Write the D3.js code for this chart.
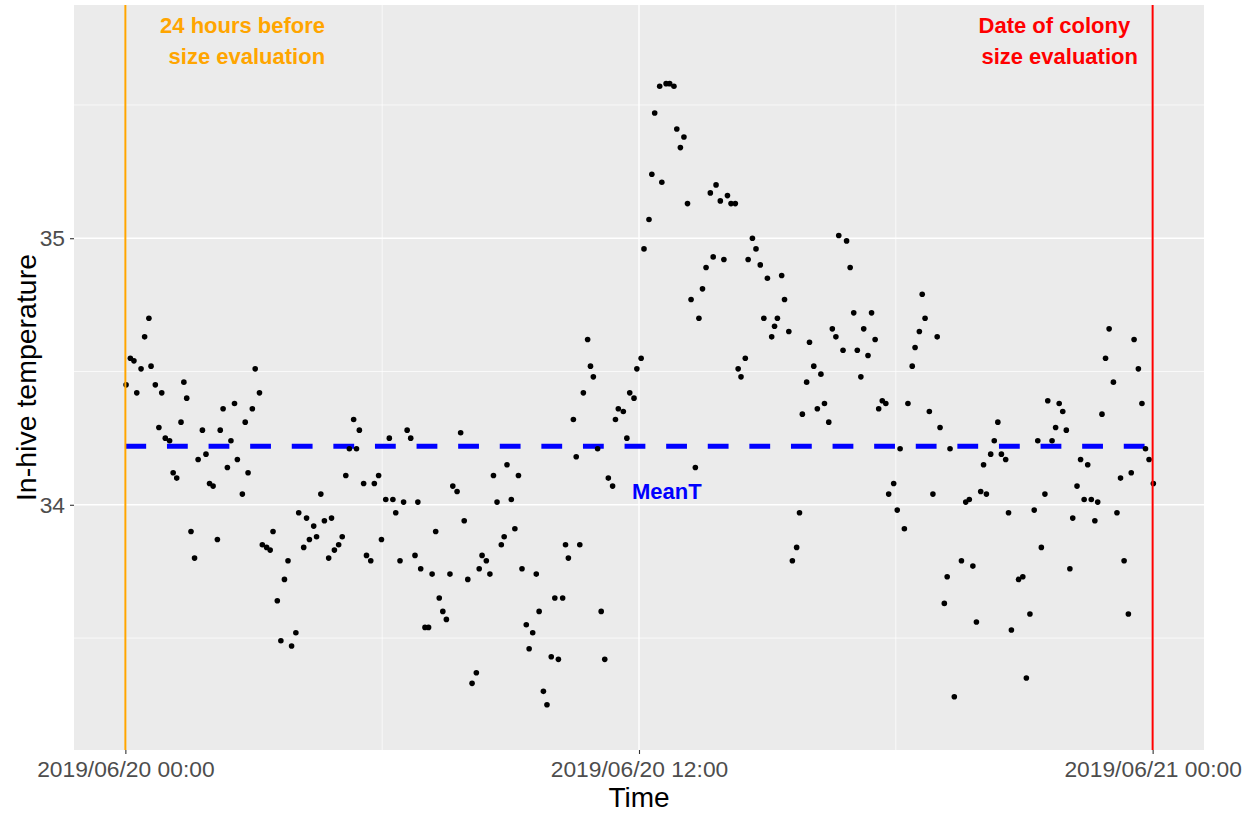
<!DOCTYPE html>
<html>
<head>
<meta charset="utf-8">
<script src="https://cdn.jsdelivr.net/npm/d3@7"></script>
<style>
  body { margin: 0; background: #ffffff; }
  text { font-family: "Liberation Sans", Arial, sans-serif; }
</style>
</head>
<body>
<div id="chart"></div>
<script>
// Logger readings, minutes after 2019/06/20 00:00
var minutes = [
  1, 7, 12, 16, 22, 27, 33, 36, 42, 47,
  51, 56, 62, 67, 72, 78, 82, 86, 92, 97,
  102, 108, 113, 118, 123, 129, 133, 137, 143, 148,
  153, 157, 164, 168, 172, 178, 182, 188, 192, 198,
  203, 207, 213, 218, 223, 228, 233, 239, 243, 250,
  254, 258, 264, 268, 274, 279, 285, 289, 293, 299,
  304, 309, 314, 320, 324, 328, 334, 338, 344, 349,
  355, 359, 365, 370, 375, 379, 385, 390, 395, 400,
  406, 410, 414, 420, 425, 430, 435, 440, 445, 450,
  455, 459, 465, 470, 475, 480, 486, 492, 496, 500,
  506, 511, 516, 521, 527, 531, 535, 541, 546, 551,
  556, 562, 566, 571, 576, 580, 586, 591, 597, 602,
  607, 613, 617, 621, 628, 632, 637, 642, 648, 652,
  656, 662, 667, 672, 677, 683, 687, 691, 698, 703,
  707, 713, 717, 723, 727, 734, 738, 742, 749, 752,
  758, 763, 769, 773, 778, 783, 788, 793, 799, 804,
  809, 814, 820, 824, 828, 834, 839, 844, 849, 855,
  859, 863, 869, 873, 879, 884, 890, 895, 900, 906,
  910, 914, 920, 924, 930, 935, 941, 945, 949, 955,
  959, 965, 970, 975, 980, 986, 991, 996, 1000, 1006,
  1011, 1016, 1021, 1026, 1031, 1035, 1041, 1046, 1051, 1056,
  1061, 1066, 1070, 1077, 1082, 1086, 1092, 1097, 1103, 1107,
  1113, 1117, 1121, 1127, 1132, 1138, 1142, 1148, 1152, 1156, 1162,
  1172, 1178, 1183, 1188, 1193, 1199, 1203, 1207, 1213, 1218, 1223, 1228, 1234, 1238, 1242,
  1252, 1258, 1263, 1268, 1274, 1279, 1284, 1289, 1293, 1299, 1304, 1309,
  1314, 1319, 1324, 1328, 1334, 1339, 1344, 1349, 1354, 1359,
  1363, 1369, 1374, 1379, 1385, 1390, 1395, 1400, 1406, 1410,
  1414, 1420, 1425, 1430, 1435, 1441
];

// In-hive temperature at each reading
var temps = [
  34.45, 34.55, 34.54, 34.42, 34.51, 34.63, 34.70, 34.52, 34.45, 34.29,
  34.42, 34.25, 34.24, 34.12, 34.10, 34.31, 34.46, 34.40, 33.90, 33.80,
  34.17, 34.28, 34.19, 34.08, 34.07, 33.87, 34.28, 34.36, 34.14, 34.24,
  34.38, 34.17, 34.04, 34.31, 34.12, 34.36, 34.51, 34.42, 33.85, 33.84,
  33.83, 33.90, 33.64, 33.49, 33.72, 33.79, 33.47, 33.52, 33.97, 33.84,
  33.95, 33.87, 33.92, 33.88, 34.04, 33.94, 33.80, 33.95, 33.83, 33.85,
  33.88, 34.11, 34.21, 34.32, 34.21, 34.28, 34.08, 33.81, 33.79, 34.08,
  34.11, 33.87, 34.02, 34.25, 34.02, 33.97, 33.79, 34.01, 34.28, 34.25,
  33.81, 34.01, 33.76, 33.54, 33.54, 33.74, 33.90, 33.65, 33.60, 33.57,
  33.74, 34.07, 34.05, 34.27, 33.94, 33.72, 33.33, 33.37, 33.76, 33.81,
  33.79, 33.74, 34.11, 34.01, 33.85, 33.88, 34.15, 34.02, 33.91, 34.11,
  33.76, 33.55, 33.46, 33.52, 33.74, 33.60, 33.30, 33.25, 33.43, 33.65,
  33.42, 33.65, 33.85, 33.80, 34.32, 34.18, 33.85, 34.42, 34.62, 34.52,
  34.48, 34.21, 33.60, 33.42, 34.10, 34.07, 34.32, 34.36, 34.35, 34.25,
  34.42, 34.40, 34.51, 34.55, 34.96, 35.07, 35.24, 35.47, 35.57, 35.21,
  35.58, 35.58, 35.57, 35.41, 35.34, 35.38, 35.13, 34.77, 34.14, 34.70,
  34.81, 34.89, 35.17, 34.93, 35.20, 35.14, 34.92, 35.16, 35.13, 35.13,
  34.51, 34.48, 34.55, 34.92, 35.00, 34.96, 34.90, 34.70, 34.85, 34.63,
  34.67, 34.70, 34.86, 34.77, 34.65, 33.79, 33.84, 33.97, 34.34, 34.46,
  34.61, 34.52, 34.36, 34.49, 34.38, 34.31, 34.66, 34.63, 35.01, 34.58,
  34.99, 34.89, 34.72, 34.58, 34.48, 34.66, 34.56, 34.72, 34.62, 34.36,
  34.39, 34.38, 34.04, 34.08, 33.98, 34.21, 33.91, 34.38, 34.52, 34.59,
  34.65, 34.79, 34.70, 34.35, 34.04, 34.63, 34.29, 33.63, 33.73, 34.21, 33.28,
  33.79, 34.01, 34.02, 33.77, 33.56, 34.05, 34.15, 34.04, 34.19, 34.24, 34.31, 34.19, 34.17, 33.97, 33.53,
  33.72, 33.73, 33.35, 33.59, 33.98, 34.24, 33.84, 34.04, 34.39, 34.24, 34.29, 34.38,
  34.35, 34.28, 33.76, 33.95, 34.07, 34.17, 34.02, 34.15, 34.02, 33.94,
  34.01, 34.34, 34.55, 34.66, 34.46, 33.97, 34.10, 33.79, 33.59, 34.12,
  34.62, 34.51, 34.38, 34.21, 34.17, 34.08
];

var meanT = 34.22;

// axis breaks
var majorHours = [0, 12, 24];
var minorHours = [6, 18];
var majorTemps = [34, 35];
var minorTemps = [33.5, 34.5, 35.5];

var svgWidth = 1251;
var svgHeight = 814;

var margin = {
  top: 5,
  right: 47,
  bottom: 64,
  left: 74
};

var width = svgWidth - margin.left - margin.right;
var height = svgHeight - margin.top - margin.bottom;

var day0 = new Date(2019, 5, 20, 0, 0);
function toDate(m) {
  return new Date(day0.getTime() + m * 60000);
}

var svg = d3.select("#chart")
  .append("svg")
  .attr("width", svgWidth)
  .attr("height", svgHeight);

var chartGroup = svg.append("g")
  .attr("transform", `translate(${margin.left}, ${margin.top})`);

// Scales (5% padding on time, fixed temperature window)
var xTimeScale = d3.scaleTime()
  .domain([toDate(-72), toDate(1512)])
  .range([0, width]);

var yLinearScale = d3.scaleLinear()
  .domain([33.08, 35.875])
  .range([height, 0]);

// Panel background
chartGroup.append("rect")
  .attr("width", width)
  .attr("height", height)
  .attr("fill", "#EBEBEB");

// Grid lines
chartGroup.selectAll(".minor-y").data(minorTemps).enter().append("line")
  .attr("x1", 0).attr("x2", width)
  .attr("y1", d => yLinearScale(d)).attr("y2", d => yLinearScale(d))
  .attr("stroke", "white").attr("stroke-width", 0.7);

chartGroup.selectAll(".minor-x").data(minorHours).enter().append("line")
  .attr("x1", d => xTimeScale(toDate(d * 60))).attr("x2", d => xTimeScale(toDate(d * 60)))
  .attr("y1", 0).attr("y2", height)
  .attr("stroke", "white").attr("stroke-width", 0.7);

chartGroup.selectAll(".major-y").data(majorTemps).enter().append("line")
  .attr("x1", 0).attr("x2", width)
  .attr("y1", d => yLinearScale(d)).attr("y2", d => yLinearScale(d))
  .attr("stroke", "white").attr("stroke-width", 1.4);

chartGroup.selectAll(".major-x").data(majorHours).enter().append("line")
  .attr("x1", d => xTimeScale(toDate(d * 60))).attr("x2", d => xTimeScale(toDate(d * 60)))
  .attr("y1", 0).attr("y2", height)
  .attr("stroke", "white").attr("stroke-width", 1.4);

// Axes
var bottomAxis = d3.axisBottom(xTimeScale)
  .tickValues(majorHours.map(h => toDate(h * 60)))
  .tickFormat(d3.timeFormat("%Y/%m/%d %H:%M"))
  .tickSize(4)
  .tickPadding(7);

var leftAxis = d3.axisLeft(yLinearScale)
  .tickValues(majorTemps)
  .tickFormat(d3.format("d"))
  .tickSize(4)
  .tickPadding(5);

var xAxisG = chartGroup.append("g")
  .attr("transform", `translate(0, ${height})`)
  .call(bottomAxis);

var yAxisG = chartGroup.append("g")
  .call(leftAxis);

[xAxisG, yAxisG].forEach(function(g) {
  g.select(".domain").remove();
  g.selectAll(".tick line").attr("stroke", "#333333").attr("stroke-width", 1.1);
  g.selectAll(".tick text")
    .attr("fill", "#4D4D4D")
    .attr("font-size", "22.8px")
    .attr("font-family", "Liberation Sans, Arial, sans-serif");
});

// Mean line
chartGroup.append("line")
  .attr("x1", xTimeScale(toDate(0)))
  .attr("x2", xTimeScale(toDate(1440)))
  .attr("y1", yLinearScale(meanT))
  .attr("y2", yLinearScale(meanT))
  .attr("stroke", "blue")
  .attr("stroke-width", 5)
  .attr("stroke-dasharray", "20.8,20.8");

// Points
chartGroup.selectAll("circle")
  .data(d3.zip(minutes, temps))
  .enter()
  .append("circle")
  .attr("cx", d => xTimeScale(toDate(d[0])))
  .attr("cy", d => yLinearScale(d[1]))
  .attr("r", 2.8)
  .attr("fill", "black");

// Reference lines
chartGroup.append("line")
  .attr("x1", xTimeScale(toDate(0))).attr("x2", xTimeScale(toDate(0)))
  .attr("y1", 0).attr("y2", height)
  .attr("stroke", "orange").attr("stroke-width", 2);

chartGroup.append("line")
  .attr("x1", xTimeScale(toDate(1440))).attr("x2", xTimeScale(toDate(1440)))
  .attr("y1", 0).attr("y2", height)
  .attr("stroke", "red").attr("stroke-width", 2);

// Annotations
var orangeText = chartGroup.append("text")
  .attr("x", xTimeScale(toDate(280)))
  .attr("y", yLinearScale(35.77))
  .attr("text-anchor", "end")
  .attr("fill", "orange")
  .attr("font-size", "22px")
  .attr("font-weight", "bold");
orangeText.append("tspan").attr("x", xTimeScale(toDate(280))).text("24 hours before");
orangeText.append("tspan").attr("x", xTimeScale(toDate(280))).attr("dy", 31).text("size evaluation");

var redText = chartGroup.append("text")
  .attr("x", xTimeScale(toDate(1196)))
  .attr("y", yLinearScale(35.77))
  .attr("text-anchor", "start")
  .attr("fill", "red")
  .attr("font-size", "22px")
  .attr("font-weight", "bold");
redText.append("tspan").attr("x", xTimeScale(toDate(1196))).text("Date of colony");
redText.append("tspan").attr("x", xTimeScale(toDate(1200))).attr("dy", 31).text("size evaluation");

chartGroup.append("text")
  .attr("x", xTimeScale(toDate(759)))
  .attr("y", yLinearScale(34.02))
  .attr("text-anchor", "middle")
  .attr("fill", "blue")
  .attr("font-size", "22px")
  .attr("font-weight", "bold")
  .text("MeanT");

// Axis titles
chartGroup.append("text")
  .attr("transform", "rotate(-90)")
  .attr("x", 0 - (height / 2))
  .attr("y", 0 - margin.left + 36)
  .attr("text-anchor", "middle")
  .attr("font-size", "28.5px")
  .attr("fill", "black")
  .text("In-hive temperature");

chartGroup.append("text")
  .attr("x", width / 2)
  .attr("y", height + 57)
  .attr("text-anchor", "middle")
  .attr("font-size", "28px")
  .attr("fill", "black")
  .text("Time");
</script>
</body>
</html>
